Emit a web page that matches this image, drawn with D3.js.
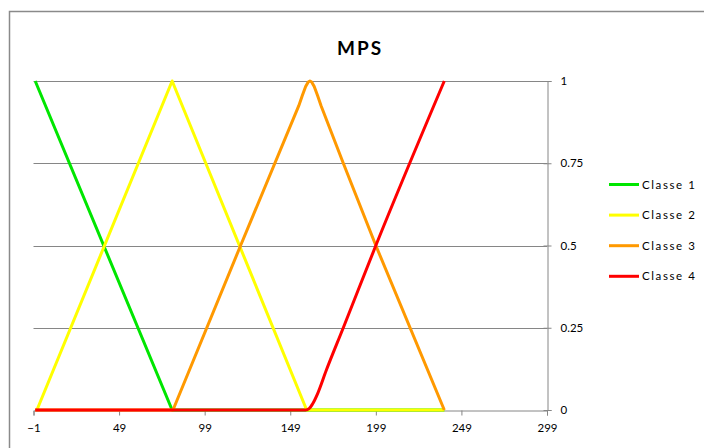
<!DOCTYPE html>
<html>
<head>
<meta charset="utf-8">
<script src="https://cdn.jsdelivr.net/npm/d3@7"></script>
<style>
  html, body { margin: 0; padding: 0; background: #fff; }
  svg { display: block; }
  text { font-family: Lato, "Open Sans", sans-serif; fill: #000; }
</style>
</head>
<body>
<svg id="chart" width="704" height="448"></svg>
<script>
// Membership functions for the MPS classes
const xTicks = [-1, 49, 99, 149, 199, 249, 299];
const yTicks = [0, 0.25, 0.5, 0.75, 1];
const seriesNames = ["Classe 1", "Classe 2", "Classe 3", "Classe 4"];
const seriesColors = ["#00e600", "#ffff00", "#ff9900", "#ff0000"];

const classe1X = [0, 80, 239];
const classe1Y = [1, 0, 0];

const classe2X = [1, 80, 158.6, 239];
const classe2Y = [0, 1, 0, 0];

const classe3X = [0, 80.5, 120, 154, 156, 158, 159.5, 160.5, 161.5, 163, 165, 167, 180, 199, 239];
const classe3Y = [0, 0, 0.5, 0.925, 0.955, 0.983, 0.997, 1, 0.997, 0.983, 0.955, 0.925, 0.75, 0.5, 0];

const classe4X = [0, 158, 160, 162, 165, 170, 180, 199, 239];
const classe4Y = [0, 0, 0.004, 0.018, 0.05, 0.12, 0.25, 0.5, 1];

const seriesX = [classe1X, classe2X, classe3X, classe4X];
const seriesY = [classe1Y, classe2Y, classe3Y, classe4Y];
// the last class bends smoothly away from zero
const seriesCurve = [d3.curveLinear, d3.curveLinear, d3.curveLinear, d3.curveMonotoneX];

const svg = d3.select("#chart");
const axisColor = "#868686";

// chart frame
svg.append("path")
  .attr("d", "M9.5,448 V11.5 H704")
  .attr("fill", "none")
  .attr("stroke", "#8a8a8a")
  .attr("stroke-width", 1.5);

const x = d3.scaleLinear().domain([-1, 299]).range([33.5, 547]);
const y = d3.scaleLinear().domain([0, 1]).range([410, 81]);

// horizontal gridlines
svg.append("g")
  .selectAll("line")
  .data(yTicks.filter(t => t > 0))
  .join("line")
  .attr("x1", x(-1)).attr("x2", x(299))
  .attr("y1", d => Math.round(y(d)) + 0.5).attr("y2", d => Math.round(y(d)) + 0.5)
  .attr("stroke", axisColor).attr("stroke-width", 1);

// bottom axis
const xAxis = d3.axisBottom(x).tickValues(xTicks).tickSize(5).tickPadding(8)
  .tickFormat(d3.format("d"));
const gx = svg.append("g").attr("transform", `translate(0,${Math.round(y(0)) + 0.5})`).call(xAxis);
gx.select(".domain").attr("stroke", axisColor);
gx.selectAll(".tick line").attr("stroke", axisColor);
gx.selectAll("text").attr("font-size", 11.5).attr("font-family", "Lato, sans-serif");

// right value axis
const yAxis = d3.axisRight(y).tickValues(yTicks).tickSize(4).tickPadding(9)
  .tickFormat(d => d3.format("")(d));
const gy = svg.append("g").attr("transform", `translate(${Math.round(x(299)) + 0.5},0)`).call(yAxis);
gy.select(".domain").attr("stroke", axisColor);
gy.selectAll(".tick line").attr("stroke", axisColor).attr("x1", -4);
gy.selectAll("text").attr("font-size", 11.5).attr("font-family", "Lato, sans-serif");

// series lines
seriesX.forEach((xs, i) => {
  const pts = xs.map((v, k) => [v, seriesY[i][k]]);
  const line = d3.line().x(d => x(d[0])).y(d => y(d[1])).curve(seriesCurve[i]);
  svg.append("path")
    .datum(pts)
    .attr("d", line)
    .attr("fill", "none")
    .attr("stroke", seriesColors[i])
    .attr("stroke-width", 3)
    .attr("stroke-linejoin", "round");
});

// title
svg.append("text")
  .attr("x", 360).attr("y", 55)
  .attr("text-anchor", "middle")
  .attr("font-size", 19).attr("font-weight", "bold")
  .attr("letter-spacing", 2)
  .text("MPS");

// legend
const legend = svg.append("g");
seriesNames.forEach((name, i) => {
  const ly = 184.5 + i * 30.6;
  legend.append("line")
    .attr("x1", 609).attr("x2", 639).attr("y1", ly).attr("y2", ly)
    .attr("stroke", seriesColors[i]).attr("stroke-width", 3);
  legend.append("text")
    .attr("x", 642).attr("y", ly + 4)
    .attr("font-size", 11.5).attr("letter-spacing", 1.6)
    .text(name);
});
</script>
</body>
</html>
